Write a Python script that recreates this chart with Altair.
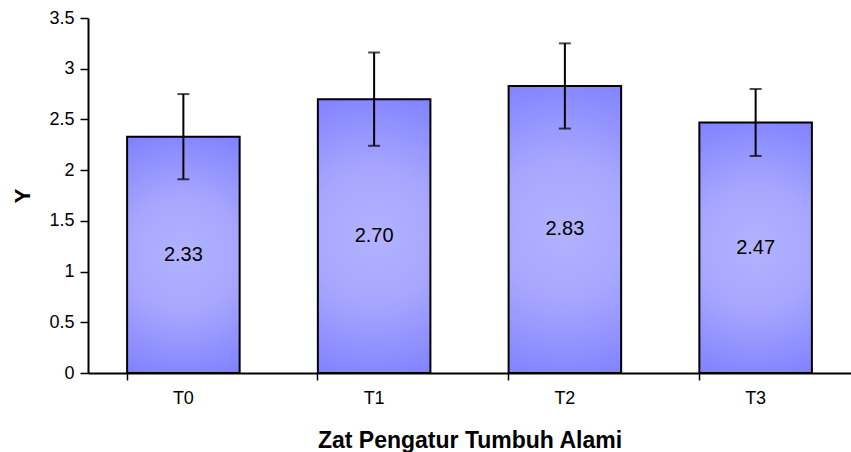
import altair as alt
import pandas as pd

cats = ["T0", "T1", "T2", "T3"]
means = [2.33, 2.70, 2.83, 2.47]
errs = [0.42, 0.46, 0.42, 0.33]

df = pd.DataFrame({"cat": cats, "mean": means, "err": errs})

base = alt.Chart(df).transform_calculate(
    lo="datum.mean - datum.err",
    hi="datum.mean + datum.err",
    mid="datum.mean / 2",
)

FONT = "Liberation Sans"

xenc = alt.X(
    "cat:N",
    title="Zat Pengatur Tumbuh Alami",
    scale=alt.Scale(paddingInner=0.41, paddingOuter=0.205),
    axis=alt.Axis(labelAngle=0, bandPosition=0, tickSize=7, labelPadding=9,
                  titlePadding=22, labelFont=FONT, labelFontSize=18,
                  titleFont=FONT, titleFontSize=23, titleFontWeight="bold",
                  labelColor="black", titleColor="black",
                  domainColor="black", domainWidth=2, tickColor="black",
                  tickWidth=1.5),
)

grad = alt.Gradient(
    gradient="radial",
    stops=[
        alt.GradientStop(color="#b2b2ff", offset=0),
        alt.GradientStop(color="#a6a6ff", offset=0.45),
        alt.GradientStop(color="#8080ff", offset=1),
    ],
    x1=0.5, y1=0.5, r1=0, x2=0.5, y2=0.5, r2=0.55,
)

bars = base.mark_bar(fill=grad, stroke="black", strokeWidth=2).encode(
    x=xenc,
    y=alt.Y(
        "mean:Q",
        title="Y",
        scale=alt.Scale(domain=[0, 3.5], nice=False),
        axis=alt.Axis(values=[0, 0.5, 1, 1.5, 2, 2.5, 3, 3.5], format="~g",
                      grid=False, tickSize=8, labelPadding=6,
                      titlePadding=14, titleAngle=270,
                      labelFont=FONT, labelFontSize=18,
                      titleFont=FONT, titleFontSize=22, titleFontWeight="bold",
                      labelColor="black", titleColor="black",
                      domainColor="black", domainWidth=2, tickColor="black",
                      tickWidth=1.5),
    ),
)

rule = base.mark_rule(color="black", strokeWidth=2).encode(
    x=alt.X("cat:N"), y="lo:Q", y2="hi:Q"
)
cap_hi = base.mark_tick(color="black", size=12, thickness=2).encode(
    x=alt.X("cat:N"), y="hi:Q"
)
cap_lo = base.mark_tick(color="black", size=12, thickness=2).encode(
    x=alt.X("cat:N"), y="lo:Q"
)
labels = base.mark_text(fontSize=20, font=FONT, color="black").encode(
    x=alt.X("cat:N"), y="mid:Q", text=alt.Text("mean:Q", format=".2f")
)

chart = alt.layer(bars, rule, cap_hi, cap_lo, labels).properties(
    width=763,
    height=355,
    autosize=alt.AutoSizeParams(type="none"),
    padding={"left": 88, "top": 18, "right": 0, "bottom": 79},
).configure_view(stroke=None)

chart.save("out.html", embed_options={"renderer": "svg", "actions": False})
